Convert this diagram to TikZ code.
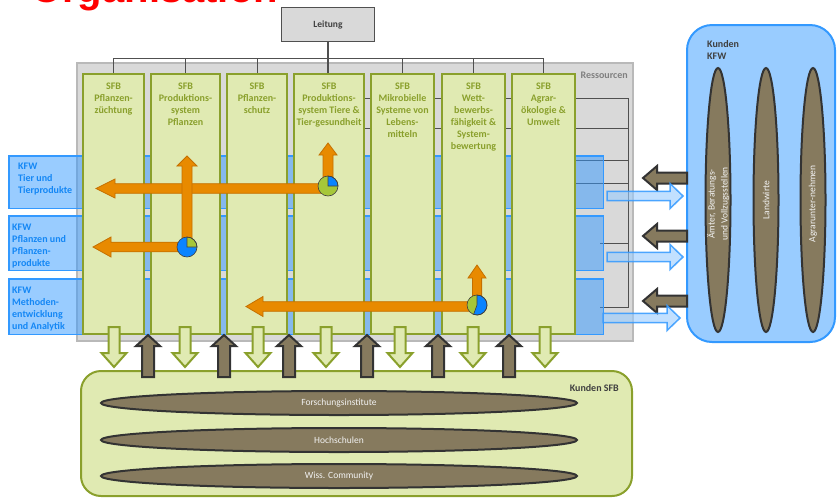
\documentclass[tikz,border=0pt]{standalone}
\usepackage{fontspec}
\setmainfont{Carlito}
\newfontfamily\titlefont{Liberation Sans}
\usetikzlibrary{shapes.geometric}
\definecolor{sfbfill}{RGB}{224,234,178}
\definecolor{sfbline}{RGB}{138,160,44}
\definecolor{sfbtext}{RGB}{138,160,44}
\definecolor{greyfill}{RGB}{217,217,217}
\definecolor{greyline}{RGB}{185,185,185}
\definecolor{treeline}{RGB}{80,80,80}
\definecolor{bluefill}{RGB}{51,153,255}
\definecolor{blueline}{RGB}{51,153,255}
\definecolor{lightblue}{RGB}{153,204,255}
\definecolor{kfwtext}{RGB}{20,135,245}
\definecolor{brownfill}{RGB}{134,122,94}
\definecolor{brownline}{RGB}{51,51,51}
\definecolor{orangefill}{RGB}{232,138,0}
\definecolor{orangeline}{RGB}{196,112,0}
\definecolor{piegreen}{RGB}{166,199,57}
\definecolor{pieblue}{RGB}{10,132,255}
\definecolor{darktext}{RGB}{64,64,64}
\definecolor{restext}{RGB}{128,128,128}
\definecolor{lighttext}{RGB}{242,242,242}
\definecolor{titlered}{RGB}{255,0,0}
\newcommand\blockH[7][]{\filldraw[#1] ({#2},{#5-#6}) -- ({#3},{#5-#6}) -- ({#3},{#5-#7}) -- ({#4},{#5}) -- ({#3},{#5+#7}) -- ({#3},{#5+#6}) -- ({#2},{#5+#6}) -- cycle;}
\newcommand\blockV[7][]{\filldraw[#1] ({#5-#6},{#2}) -- ({#5-#6},{#3}) -- ({#5-#7},{#3}) -- ({#5},{#4}) -- ({#5+#7},{#3}) -- ({#5+#6},{#3}) -- ({#5+#6},{#2}) -- cycle;}
\begin{document}
\begin{tikzpicture}[x=1pt,y=-1pt,
  sfb/.style={draw=sfbline, fill=sfbfill, line width=2.2pt, minimum height=260pt, inner sep=0},
  sfbtxt/.style={text=sfbtext, font=\fontsize{10}{12}\selectfont\bfseries, align=center, anchor=north, inner sep=0},
  kfwtxt/.style={text=kfwtext, font=\fontsize{10}{12}\selectfont\bfseries, align=left, anchor=north west, inner sep=0},
  band/.style={draw=blueline, fill=bluefill, fill opacity=0.5, line width=1.5pt, inner sep=0},
  tree/.style={draw=treeline, line width=0.9pt},
  brack/.style={draw=treeline, line width=0.7pt},
  ora/.style={fill=orangefill, draw=orangeline, line width=0.8pt},
  grn/.style={fill=sfbfill, draw=sfbline, line width=2pt},
  brn/.style={fill=brownfill, draw=brownline, line width=2pt},
  blu/.style={fill=lightblue, fill opacity=0.6, draw=blueline, draw opacity=0.85, line width=1.5pt},
  lens/.style={ellipse, fill=brownfill, draw=brownline, line width=2pt, inner sep=0},
  light/.style={text=lighttext, font=\fontsize{9.5}{13}\selectfont, inner sep=0, align=center},
  dark/.style={text=darktext, font=\fontsize{10}{12}\selectfont\bfseries, inner sep=0},
  pieline/.style={draw=black!75, line width=0.6pt}
]
\useasboundingbox (0,0) rectangle (837,499);

% title (cut off at the top, as in the reference)
\node[anchor=base west, inner sep=0, text=titlered, font=\titlefont\bfseries\fontsize{40}{40}\selectfont] (title) at (31,2.5) {Organisation};

% Ressourcen
\node[draw=greyline, fill=greyfill, line width=1.5pt, minimum width=556pt, minimum height=278pt, inner sep=0] (res) at (355,202) {};
\node[text=restext, font=\fontsize{10}{12}\selectfont\bfseries, anchor=east, inner sep=0] (reslbl) at (628,75) {Ressourcen};

% bracket lines inside Ressourcen
\coordinate (r1) at (365,98);  \coordinate (r1e) at (628,98);
\coordinate (r2) at (365,128); \coordinate (r2e) at (628,128);
\coordinate (r3) at (576,160); \coordinate (r3e) at (628,160);
\coordinate (r4) at (576,183); \coordinate (r4e) at (628,183);
\coordinate (r5) at (600,243); \coordinate (r5e) at (628,243);
\coordinate (r6) at (600,307); \coordinate (r6e) at (628,307);
\draw[brack] (r1) -- (r1e) -- (r6e) -- (r6);
\draw[brack] (r2) -- (r2e);
\draw[brack] (r3) -- (r3e);
\draw[brack] (r4) -- (r4e);
\draw[brack] (r5) -- (r5e);

% KFW bands
\node[band, minimum width=594.5pt, minimum height=52.5pt] (k1) at (306,182) {};
\node[band, minimum width=594.5pt, minimum height=54.5pt] (k2) at (306,243) {};
\node[band, minimum width=594.5pt, minimum height=55.5pt] (k3) at (306,306.5) {};

% Leitung and tree
\node[draw=treeline, fill=greyfill, line width=1.3pt, minimum width=93pt, minimum height=34pt, inner sep=0, text=darktext, font=\fontsize{9.5}{12}\selectfont\bfseries] (lt) at (328,24.5) {Leitung};

% SFB boxes
\node[sfb, minimum width=61pt] (s1) at (113.5,204) {};
\node[sfb, minimum width=69pt] (s2) at (185.5,204) {};
\node[sfb, minimum width=60pt] (s3) at (257,204) {};
\node[sfb, minimum width=70pt] (s4) at (329,204) {};
\node[sfb, minimum width=63pt] (s5) at (402.5,204) {};
\node[sfb, minimum width=63pt] (s6) at (473.5,204) {};
\node[sfb, minimum width=63pt] (s7) at (543.5,204) {};

\coordinate (bar) at (0,58);
\draw[tree] (s1.north |- bar) -- (s7.north |- bar);
\foreach \s in {s1,s2,s3,s5,s6,s7} \draw[tree] (\s.north |- bar) -- (\s.north);
\draw[draw=treeline, line width=1.6pt] (lt.south) -- (lt.south |- s4.north);

\node[sfbtxt] (t1) at (113.5,82.5) {SFB\\Pflanzen-\\züchtung};
\node[sfbtxt] (t2) at (185.5,82.5) {SFB\\Produktions-\\system\\Pflanzen};
\node[sfbtxt] (t3) at (257,82.5) {SFB\\Pflanzen-\\schutz};
\node[sfbtxt] (t4) at (329,82.5) {SFB\\Produktions-\\system Tiere \&\\Tier-gesundheit};
\node[sfbtxt] (t5) at (402.5,82.5) {SFB\\Mikrobielle\\Systeme von\\Lebens-\\mitteln};
\node[sfbtxt] (t6) at (473.5,82.5) {SFB\\Wett-\\bewerbs-\\fähigkeit \&\\System-\\bewertung};
\node[sfbtxt] (t7) at (543.5,82.5) {SFB\\Agrar-\\ökologie \&\\Umwelt};

% KFW texts
\node[kfwtxt] (kt1) at (18,162.8) {KFW\\Tier und\\Tierprodukte};
\node[kfwtxt] (kt2) at (12,223.8) {KFW\\Pflanzen und\\Pflanzen-\\produkte};
\node[kfwtxt] (kt3) at (12,286.8) {KFW\\Methoden-\\entwicklung\\und Analytik};

% orange arrows
\blockH[ora]{328}{115}{96}{188.5}{4.8}{9.5}
\blockV[ora]{186}{155}{143}{328}{5}{9}
\blockH[ora]{187}{111}{93}{247}{4.8}{10}
\blockV[ora]{247}{166}{156}{187}{5}{10}
\blockH[ora]{477}{263}{246}{306.5}{4.8}{10}
\blockV[ora]{305}{278}{265}{477}{4.6}{9}

% pies
\node[circle, minimum size=20pt, inner sep=0] (p1) at (328,186) {};
\node[circle, minimum size=20pt, inner sep=0] (p2) at (187,247) {};
\node[circle, minimum size=20pt, inner sep=0] (p3) at (477,305) {};
\fill[piegreen] (p1.center) circle[radius=10pt];
\filldraw[fill=pieblue, pieline] (p1.center) -- ++(0:10pt) arc[start angle=0, end angle=90, radius=10pt] -- cycle;
\draw[pieline] (p1.center) circle[radius=10pt];
\fill[pieblue] (p2.center) circle[radius=10pt];
\filldraw[fill=piegreen, pieline] (p2.center) -- ++(0:10pt) arc[start angle=0, end angle=90, radius=10pt] -- cycle;
\draw[pieline] (p2.center) circle[radius=10pt];
\fill[piegreen] (p3.center) circle[radius=10pt];
\filldraw[fill=pieblue, pieline] (p3.center) -- ++(-110:10pt) arc[start angle=-110, end angle=90, radius=10pt] -- cycle;
\draw[pieline] (p3.center) circle[radius=10pt];

% Kunden SFB
\node[draw=sfbline, fill=sfbfill, line width=2pt, rounded corners=20pt, minimum width=551pt, minimum height=125pt, inner sep=0] (ks) at (356.5,433.5) {};
\node[dark, anchor=east] (kslbl) at (619,388) {Kunden SFB};
\node[lens, minimum width=476pt, minimum height=24pt] (f1) at (339,403) {};
\node[lens, minimum width=476pt, minimum height=24pt] (f2) at (339,440) {};
\node[lens, minimum width=476pt, minimum height=24pt] (f3) at (339,476) {};
\node[light] at (f1.center) {Forschungsinstitute};
\node[light] at (f2.center) {Hochschulen};
\node[light] at (f3.center) {Wiss. Community};

% arrows between SFB and Kunden SFB
\foreach \x in {114,185,258,326,400,473,545}
  \blockV[grn]{327}{353}{367}{\x}{5.5}{12.5};
\foreach \x in {148,224,289,367,438,509}
  \blockV[brn]{377}{346}{335}{\x}{6}{12};

% Kunden KFW
\node[draw=blueline, fill=lightblue, line width=2pt, rounded corners=25pt, minimum width=148pt, minimum height=317pt, inner sep=0] (kk) at (761,183.5) {};
\node[dark, anchor=north west, align=left] (kklbl) at (707,40.5) {Kunden\\KFW};
\node[lens, minimum width=25pt, minimum height=264pt] (e1) at (718,200) {};
\node[lens, minimum width=25pt, minimum height=264pt] (e2) at (766,200) {};
\node[lens, minimum width=25pt, minimum height=264pt] (e3) at (813,200) {};
\node[light, rotate=90] at (718,204) {Ämter, Beratungs-\\und Vollzugsstellen};
\node[light, rotate=90] at (766,200) {Landwirte};
\node[light, rotate=90] at (813,204) {Agrarunter-nehmen};

% arrows between SFB area and Kunden KFW
\blockH[brn]{687}{657}{643}{178}{5.5}{12}
\blockH[brn]{687}{657}{643}{236}{5.5}{12}
\blockH[brn]{687}{657}{643}{301}{5.5}{12}
\blockH[blu]{607}{670}{683}{196}{4.7}{12.5}
\blockH[blu]{607}{670}{683}{257}{4.7}{12.5}
\blockH[blu]{603}{667}{680}{318}{4.7}{12.5}
\end{tikzpicture}
\end{document}
